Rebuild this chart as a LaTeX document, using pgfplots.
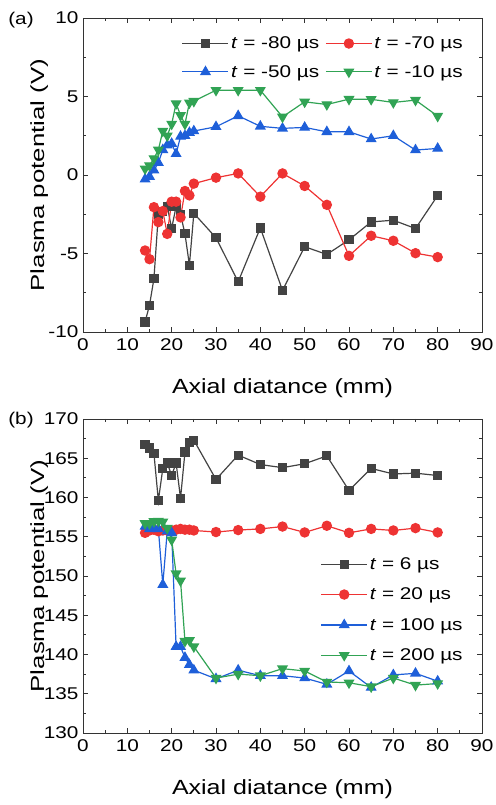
\documentclass[border=0pt]{standalone}
\usepackage{fontspec}
\setmainfont{Liberation Sans}
\newfontfamily\tickf{Liberation Sans}[FakeStretch=1.22]
\newfontfamily\ylabf{Liberation Sans}[FakeStretch=1.36]
\usepackage{pgfplots}
\usepackage{pgfplotstable}
\pgfplotsset{compat=1.18}
\definecolor{axgray}{HTML}{333333}
\definecolor{sgray}{HTML}{434343}
\definecolor{sred}{HTML}{EE3333}
\definecolor{sblue}{HTML}{1E5FD9}
\definecolor{sgreen}{HTML}{31A354}

\pgfplotstableread{
x   a      b      c      d
14  -9.36  -4.81  -0.27  0.40
15  -8.30  -5.36  -0.10  0.60
16  -6.60  -2.05   0.30  1.05
17  -2.50  -3.00   0.78  1.60
18  -2.30  -2.30   1.60  2.80
19  -2.00  -3.75   1.90  2.50
20  -3.40  -1.70   2.00  3.25
21  -2.00  -1.70   1.35  4.55
22  -2.50  -2.70   2.45  3.80
23  -3.75  -1.02   2.50  3.25
24  -5.74  -1.30   2.70  4.60
25  -2.44  -0.55   2.80  4.70
30  -4.00  -0.17   3.07  5.40
35  -6.80   0.10   3.77  5.40
40  -3.37  -1.38   3.10  5.40
45  -7.35   0.10   2.97  3.70
50  -4.57  -0.70   3.03  4.66
55  -5.06  -1.90   2.75  4.49
60  -4.13  -5.15   2.75  4.83
65  -2.99  -3.87   2.29  4.82
70  -2.88  -4.19   2.50  4.62
75  -3.41  -4.98   1.59  4.77
80  -1.31  -5.23   1.69  3.75
}\toptable

\pgfplotstableread{
x   a       b       c       d
14  166.75  155.50  156.30  156.70
15  166.30  155.80  156.00  156.70
16  165.60  155.90  156.10  156.95
17  159.60  155.70  156.00  157.00
18  163.70  155.80  148.90  156.90
19  164.40  155.80  155.70  156.10
20  162.80  155.80  155.50  154.60
21  164.40  155.90  141.00  150.30
22  159.90  156.00  141.00  149.40
23  165.80  155.90  139.60  141.70
24  167.00  155.90  138.70  141.80
25  167.30  155.80  138.00  141.00
30  162.30  155.60  136.90  137.00
35  165.40  155.85  138.00  137.50
40  164.20  156.00  137.30  137.30
45  163.80  156.30  137.30  138.20
50  164.30  155.55  137.00  137.90
55  165.30  156.40  136.20  136.50
60  160.90  155.50  137.90  136.40
65  163.70  156.00  135.80  135.90
70  163.00  155.80  137.40  137.00
75  163.10  156.10  137.60  136.10
80  162.80  155.55  136.60  136.30
}\bottable

\pgfplotsset{
  myaxis/.style={
    scale only axis, width=399pt, height=314pt,
    xmin=0, xmax=90, xtick={0,10,...,90}, minor x tick num=1,
    minor y tick num=1,
    tick align=inside,
    major tick length=5pt, minor tick length=3pt,
    every tick/.style={line width=0.8pt, color=axgray},
    axis line style={line width=0.9pt, axgray},
    tick label style={font=\tickf\fontsize{17}{20}\selectfont},
    xticklabel style={yshift=-3pt},
    yticklabel style={xshift=-1pt},
    /pgf/number format/assume math mode=true,
    xlabel={Axial diatance (mm)},
    ylabel={Plasma potential (V)},
    xlabel style={font=\tickf\fontsize{20.5}{24}\selectfont, at={(axis description cs:0.5,-0.18)}, anchor=center},
    ylabel style={font=\ylabf\fontsize{19}{23}\selectfont, at={(axis description cs:-0.11,0.5)}, anchor=center},
    legend style={draw=none, fill=none, font=\tickf\fontsize{17}{20}\selectfont,
      /tikz/every even column/.append style={column sep=4pt},
      row sep=11pt, inner sep=0pt,
      nodes={inner sep=2pt}},
    legend cell align=left,
    legend image code/.code={\draw[mark repeat=2,mark phase=2,##1] plot coordinates {(0pt,0pt) (23pt,0pt) (46pt,0pt)};},
  },
  s1/.style={color=sgray, line width=1.2pt, mark=square*, mark size=4pt, mark options={solid, fill=sgray}},
  s2/.style={color=sred, line width=1.2pt, mark=*, mark size=4.6pt, mark options={solid, fill=sred}},
  s3/.style={color=sblue, line width=1.2pt, mark=triangle*, mark size=5.2pt, mark options={solid, fill=sblue}},
  s4/.style={color=sgreen, line width=1.2pt, mark=triangle*, mark size=5.2pt, mark options={solid, fill=sgreen, rotate=180}},
}

\begin{document}
\begin{tikzpicture}
\useasboundingbox (0,0) rectangle (495pt,805pt);
\begin{axis}[myaxis, at={(83pt,473pt)}, anchor=south west,
  ymin=-10, ymax=10, ytick={-10,-5,...,10},
  legend columns=2,
  legend style={at={(0.957,0.947)}, anchor=north east}]
\addplot[s1] table[x=x,y=a] {\toptable};
\addlegendentry{\textit{t} = -80 µs}
\addplot[s2] table[x=x,y=b] {\toptable};
\addlegendentry{\textit{t} = -70 µs}
\addplot[s3] table[x=x,y=c] {\toptable};
\addlegendentry{\textit{t} = -50 µs}
\addplot[s4] table[x=x,y=d] {\toptable};
\addlegendentry{\textit{t} = -10 µs}
\end{axis}
\begin{axis}[myaxis, at={(83pt,72pt)}, anchor=south west,
  ymin=130, ymax=170, ytick={130,135,...,170},
  legend columns=1,
  legend style={at={(0.957,0.566)}, anchor=north east, row sep=13pt}]
\addplot[s1] table[x=x,y=a] {\bottable};
\addlegendentry{\textit{t} = 6 µs}
\addplot[s2] table[x=x,y=b] {\bottable};
\addlegendentry{\textit{t} = 20 µs}
\addplot[s3] table[x=x,y=c] {\bottable};
\addlegendentry{\textit{t} = 100 µs}
\addplot[s4] table[x=x,y=d] {\bottable};
\addlegendentry{\textit{t} = 200 µs}
\end{axis}
\node[font=\tickf\fontsize{17}{20}\selectfont] at (21pt,785pt) {(a)};
\node[font=\tickf\fontsize{17}{20}\selectfont] at (21pt,385pt) {(b)};
\end{tikzpicture}
\end{document}
